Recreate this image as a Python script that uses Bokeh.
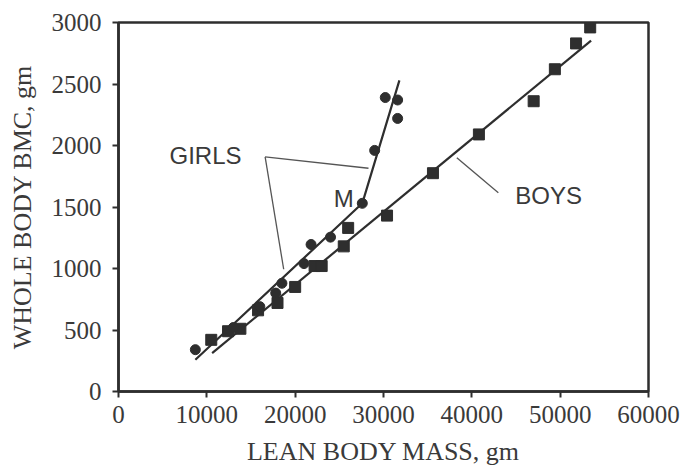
from bokeh.plotting import figure
from bokeh.models import Range1d, Label, FixedTicker
from bokeh.embed import file_html
from bokeh.resources import INLINE

# Data
boys_lbm = [10500, 12400, 13800, 15800, 18000, 20000, 22200, 23000, 25500, 26000,
            30400, 35600, 40800, 47000, 49400, 51800, 53400]
boys_bmc = [420, 490, 510, 660, 720, 850, 1020, 1020, 1180, 1330,
            1430, 1775, 2090, 2360, 2620, 2830, 2960]

girls_lbm = [8700, 13000, 16000, 17800, 18500, 21000, 21800, 24000, 27600, 29000,
             30200, 31600, 31600]
girls_bmc = [340, 520, 690, 800, 880, 1040, 1195, 1255, 1530, 1960,
             2390, 2370, 2220]

boys_fit_x = [10600, 53500]
boys_fit_y = [312, 2853]
girls_fit_x = [8700, 27600, 31800]
girls_fit_y = [258, 1530, 2530]

x_ticks = [0, 10000, 20000, 30000, 40000, 50000, 60000]
y_ticks = [0, 500, 1000, 1500, 2000, 2500, 3000]

INK = "#2e2e2e"
TXT = "#3a3a3a"

p = figure(width=681, height=471, output_backend="svg", toolbar_location=None,
           x_range=Range1d(0, 60000), y_range=Range1d(0, 3000),
           min_border_left=118, min_border_right=33, min_border_top=22,
           min_border_bottom=80)
p.background_fill_color = "white"
p.border_fill_color = "white"
p.outline_line_color = INK
p.outline_line_width = 2.5
p.xgrid.grid_line_color = None
p.ygrid.grid_line_color = None

for ax, ticks in ((p.xaxis[0], x_ticks), (p.yaxis[0], y_ticks)):
    ax.ticker = FixedTicker(ticks=ticks)
    ax.minor_tick_line_color = None
    ax.major_tick_in = 0
    ax.major_tick_out = 6
    ax.major_tick_line_color = INK
    ax.major_tick_line_width = 2
    ax.axis_line_color = INK
    ax.axis_line_width = 2.5
    ax.major_label_text_font = "Liberation Serif"
    ax.major_label_text_font_size = "25px"
    ax.major_label_text_color = TXT
    ax.axis_label_text_font = "Liberation Serif"
    ax.axis_label_text_font_size = "26px"
    ax.axis_label_text_font_style = "normal"
    ax.axis_label_text_color = TXT

p.xaxis[0].axis_label = "LEAN BODY MASS, gm"
p.yaxis[0].axis_label = "WHOLE BODY BMC, gm"
p.xaxis[0].major_label_standoff = 8
p.xaxis[0].axis_label_standoff = 11
p.yaxis[0].major_label_standoff = 11
p.yaxis[0].axis_label_standoff = 12

# Fit lines
p.line(boys_fit_x, boys_fit_y, line_color=INK, line_width=2.2)
p.line(girls_fit_x, girls_fit_y, line_color=INK, line_width=2.2)

# Points
p.scatter(boys_lbm, boys_bmc, marker="square", size=11, fill_color=INK, line_color=INK)
p.scatter(girls_lbm, girls_bmc, marker="circle", size=10, fill_color=INK, line_color=INK)

# Leader lines
LEAD = "#555555"
p.segment(x0=[16600, 16600, 38300], y0=[1907, 1907, 1901],
          x1=[28300, 18700, 43000], y1=[1815, 994, 1616],
          line_color=LEAD, line_width=1.3)

# Annotation labels
for txt, x, y in (("GIRLS", 9850, 1915), ("BOYS", 48700, 1597), ("M", 25500, 1573)):
    p.add_layout(Label(x=x, y=y, text=txt, text_font="Liberation Sans",
                       text_font_size="24px", text_color=TXT,
                       text_align="center", text_baseline="middle"))

open("out.html", "w").write(file_html(p, INLINE))
